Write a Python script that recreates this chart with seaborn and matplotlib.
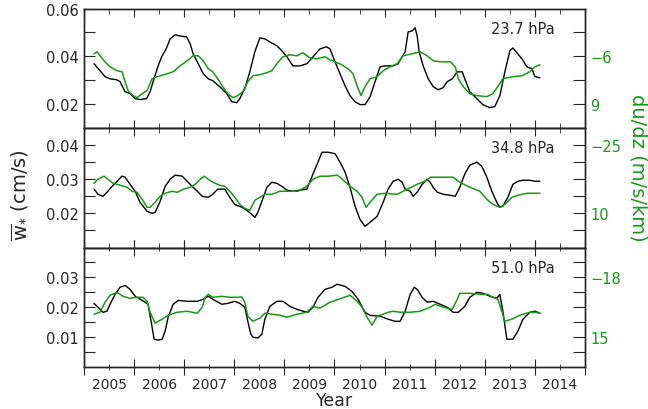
import numpy as np
import pandas as pd
import matplotlib
matplotlib.use("Agg")
import matplotlib.pyplot as plt
import seaborn as sns

# ---------------- 23.7 hPa ----------------
t_w_237 = [2005.20, 2005.32, 2005.42, 2005.52, 2005.65, 2005.72, 2005.82, 2005.92, 2006.02, 2006.12,
           2006.25, 2006.32, 2006.38, 2006.48, 2006.55, 2006.64, 2006.72, 2006.82, 2006.92, 2007.05,
           2007.12, 2007.18, 2007.28, 2007.38, 2007.48, 2007.57, 2007.71, 2007.85, 2007.95, 2008.05,
           2008.11, 2008.21, 2008.31, 2008.41, 2008.51, 2008.61, 2008.71, 2008.85, 2008.95, 2009.05,
           2009.17, 2009.31, 2009.45, 2009.57, 2009.71, 2009.84, 2009.91, 2010.01, 2010.11, 2010.21,
           2010.31, 2010.41, 2010.51, 2010.61, 2010.71, 2010.81, 2010.91, 2011.01, 2011.17, 2011.27,
           2011.35, 2011.41, 2011.47, 2011.55, 2011.61, 2011.65, 2011.69, 2011.77, 2011.87, 2011.97,
           2012.07, 2012.17, 2012.25, 2012.35, 2012.45, 2012.55, 2012.60, 2012.70, 2012.84, 2012.96,
           2013.10, 2013.20, 2013.30, 2013.40, 2013.50, 2013.56, 2013.66, 2013.74, 2013.84, 2013.94,
           2014.00, 2014.10]
w_237 = [0.0369, 0.0340, 0.0315, 0.0306, 0.0302, 0.0294, 0.0252, 0.0244, 0.0223, 0.0219,
         0.0223, 0.0252, 0.0294, 0.0360, 0.0398, 0.0431, 0.0473, 0.0490, 0.0485, 0.0481,
         0.0452, 0.0410, 0.0369, 0.0327, 0.0306, 0.0298, 0.0273, 0.0244, 0.0210, 0.0206,
         0.0223, 0.0265, 0.0335, 0.0419, 0.0477, 0.0473, 0.0460, 0.0444, 0.0423, 0.0398,
         0.0360, 0.0360, 0.0369, 0.0398, 0.0431, 0.0440, 0.0431, 0.0377, 0.0327, 0.0277,
         0.0235, 0.0210, 0.0198, 0.0198, 0.0231, 0.0294, 0.0356, 0.0360, 0.0360, 0.0369,
         0.0398, 0.0419, 0.0502, 0.0506, 0.0519, 0.0485, 0.0419, 0.0360, 0.0306, 0.0273,
         0.0260, 0.0269, 0.0294, 0.0306, 0.0335, 0.0335, 0.0306, 0.0252, 0.0223, 0.0198,
         0.0185, 0.0190, 0.0235, 0.0335, 0.0423, 0.0435, 0.0410, 0.0390, 0.0356, 0.0348,
         0.0315, 0.0310]
t_s_237 = [2005.20, 2005.26, 2005.32, 2005.42, 2005.52, 2005.66, 2005.76, 2005.82, 2005.88, 2005.98,
           2006.06, 2006.16, 2006.26, 2006.36, 2006.46, 2006.66, 2006.78, 2006.92, 2007.06, 2007.18,
           2007.28, 2007.38, 2007.48, 2007.57, 2007.67, 2007.77, 2007.87, 2007.97, 2008.07, 2008.17,
           2008.27, 2008.37, 2008.51, 2008.65, 2008.75, 2008.85, 2008.97, 2009.11, 2009.25, 2009.37,
           2009.51, 2009.65, 2009.81, 2009.91, 2010.05, 2010.11, 2010.27, 2010.37, 2010.45, 2010.53,
           2010.61, 2010.71, 2010.85, 2010.97, 2011.11, 2011.25, 2011.37, 2011.55, 2011.71, 2011.85,
           2011.97, 2012.11, 2012.31, 2012.41, 2012.47, 2012.57, 2012.70, 2012.84, 2013.04, 2013.16,
           2013.30, 2013.36, 2013.56, 2013.74, 2013.90, 2014.00, 2014.10]
s_237 = [-6.78, -7.41, -6.16, -4.28, -2.72, -1.47, -1.16, 1.97, 4.78, 6.34,
         6.97, 5.72, 4.78, 1.03, 0.41, -0.53, -1.16, -3.03, -4.60, -6.16,
         -6.16, -4.60, -2.10, -1.16, 1.03, 3.53, 5.72, 6.97, 6.34, 5.09,
         1.97, 0.09, -0.22, -0.85, -1.47, -3.66, -5.85, -6.47, -6.16, -7.10,
         -5.53, -5.22, -5.85, -4.91, -3.97, -3.66, -2.10, -0.53, 3.22, 6.34,
         3.53, 1.03, 0.41, -1.47, -2.72, -3.66, -6.16, -6.78, -7.41, -6.16,
         -4.60, -4.28, -4.28, -2.72, 1.03, 3.53, 5.72, 6.34, 6.66, 5.72,
         2.59, 1.03, 0.41, 0.09, -1.16, -2.72, -3.34]

# ---------------- 34.8 hPa ----------------
t_w_348 = [2005.20, 2005.28, 2005.38, 2005.46, 2005.56, 2005.66, 2005.76, 2005.82, 2005.92, 2006.02,
           2006.12, 2006.26, 2006.36, 2006.42, 2006.52, 2006.62, 2006.72, 2006.82, 2006.96, 2007.06,
           2007.16, 2007.26, 2007.36, 2007.48, 2007.57, 2007.67, 2007.81, 2007.91, 2008.01, 2008.15,
           2008.25, 2008.35, 2008.41, 2008.47, 2008.55, 2008.65, 2008.75, 2008.85, 2008.95, 2009.05,
           2009.17, 2009.31, 2009.45, 2009.51, 2009.57, 2009.67, 2009.75, 2009.87, 2010.01, 2010.11,
           2010.21, 2010.31, 2010.41, 2010.51, 2010.61, 2010.71, 2010.85, 2010.97, 2011.07, 2011.17,
           2011.27, 2011.35, 2011.41, 2011.51, 2011.57, 2011.65, 2011.75, 2011.85, 2011.91, 2011.97,
           2012.05, 2012.17, 2012.31, 2012.41, 2012.50, 2012.60, 2012.70, 2012.84, 2012.94, 2013.04,
           2013.14, 2013.24, 2013.30, 2013.36, 2013.46, 2013.56, 2013.66, 2013.76, 2013.90, 2014.00,
           2014.10]
w_348 = [0.0271, 0.0256, 0.0250, 0.0262, 0.0279, 0.0294, 0.0309, 0.0306, 0.0285, 0.0265,
         0.0232, 0.0206, 0.0200, 0.0203, 0.0235, 0.0279, 0.0300, 0.0312, 0.0309, 0.0294,
         0.0279, 0.0265, 0.0250, 0.0247, 0.0256, 0.0271, 0.0271, 0.0247, 0.0226, 0.0218,
         0.0209, 0.0197, 0.0188, 0.0203, 0.0235, 0.0276, 0.0291, 0.0288, 0.0279, 0.0268,
         0.0265, 0.0268, 0.0271, 0.0294, 0.0315, 0.0350, 0.0379, 0.0379, 0.0375, 0.0350,
         0.0321, 0.0276, 0.0221, 0.0182, 0.0162, 0.0174, 0.0191, 0.0232, 0.0271, 0.0294,
         0.0300, 0.0291, 0.0271, 0.0265, 0.0250, 0.0262, 0.0285, 0.0300, 0.0291, 0.0276,
         0.0262, 0.0256, 0.0253, 0.0250, 0.0276, 0.0315, 0.0341, 0.0350, 0.0338, 0.0306,
         0.0265, 0.0232, 0.0218, 0.0221, 0.0247, 0.0285, 0.0294, 0.0297, 0.0297, 0.0294,
         0.0294]
t_s_348 = [2005.20, 2005.28, 2005.40, 2005.48, 2005.58, 2005.72, 2005.86, 2005.96, 2006.06, 2006.16,
           2006.26, 2006.32, 2006.42, 2006.52, 2006.62, 2006.76, 2006.86, 2006.98, 2007.12, 2007.22,
           2007.32, 2007.40, 2007.48, 2007.57, 2007.71, 2007.81, 2007.91, 2008.01, 2008.11, 2008.21,
           2008.31, 2008.41, 2008.51, 2008.61, 2008.75, 2008.91, 2009.11, 2009.27, 2009.45, 2009.57,
           2009.71, 2009.87, 2010.05, 2010.11, 2010.31, 2010.45, 2010.55, 2010.63, 2010.71, 2010.85,
           2011.01, 2011.25, 2011.45, 2011.65, 2011.85, 2011.91, 2012.11, 2012.37, 2012.50, 2012.70,
           2012.90, 2013.04, 2013.16, 2013.30, 2013.40, 2013.54, 2013.66, 2013.84, 2014.10]
s_348 = [-5.45, -7.50, -9.05, -7.50, -5.45, -4.42, -3.39, -1.33, -0.81, 2.79,
         6.91, 6.91, 4.33, 1.25, -0.30, -1.33, -0.81, -2.36, -3.39, -4.93,
         -7.50, -9.05, -7.50, -5.96, -4.42, -3.90, -1.33, 1.76, 5.37, 7.43,
         8.46, 3.30, 1.76, 0.22, 0.22, -1.33, -1.33, -1.33, -3.90, -7.50,
         -9.05, -9.05, -9.56, -8.53, -3.90, -1.33, 1.76, 6.91, 4.33, 0.22,
         -0.30, 0.22, -2.36, -4.93, -6.99, -8.53, -8.53, -8.53, -5.96, -3.39,
         -1.33, 2.79, 5.37, 6.91, 5.37, 1.76, 0.73, -0.30, -0.30]

# ---------------- 51.0 hPa ----------------
t_w_510 = [2005.20, 2005.28, 2005.38, 2005.46, 2005.52, 2005.62, 2005.72, 2005.82, 2005.92, 2006.02,
           2006.12, 2006.22, 2006.28, 2006.36, 2006.40, 2006.48, 2006.56, 2006.62, 2006.68, 2006.78,
           2006.88, 2007.06, 2007.26, 2007.38, 2007.48, 2007.57, 2007.75, 2007.87, 2008.01, 2008.11,
           2008.21, 2008.27, 2008.33, 2008.37, 2008.47, 2008.55, 2008.61, 2008.71, 2008.85, 2008.97,
           2009.11, 2009.25, 2009.37, 2009.47, 2009.57, 2009.67, 2009.81, 2009.95, 2010.05, 2010.21,
           2010.35, 2010.47, 2010.61, 2010.71, 2010.91, 2011.07, 2011.21, 2011.31, 2011.41, 2011.51,
           2011.59, 2011.65, 2011.75, 2011.85, 2011.97, 2012.11, 2012.25, 2012.37, 2012.47, 2012.60,
           2012.70, 2012.84, 2012.96, 2013.10, 2013.24, 2013.30, 2013.36, 2013.44, 2013.56, 2013.66,
           2013.76, 2013.90, 2014.00, 2014.10]
w_510 = [0.0213, 0.0200, 0.0183, 0.0187, 0.0210, 0.0243, 0.0267, 0.0273, 0.0260, 0.0237,
         0.0227, 0.0217, 0.0210, 0.0133, 0.0093, 0.0090, 0.0093, 0.0120, 0.0167, 0.0210,
         0.0223, 0.0220, 0.0220, 0.0227, 0.0237, 0.0227, 0.0210, 0.0213, 0.0220, 0.0213,
         0.0200, 0.0153, 0.0110, 0.0100, 0.0097, 0.0110, 0.0160, 0.0203, 0.0220, 0.0220,
         0.0203, 0.0193, 0.0187, 0.0183, 0.0200, 0.0233, 0.0260, 0.0267, 0.0277, 0.0270,
         0.0253, 0.0227, 0.0183, 0.0173, 0.0170, 0.0160, 0.0153, 0.0153, 0.0187, 0.0243,
         0.0267, 0.0260, 0.0233, 0.0217, 0.0220, 0.0210, 0.0200, 0.0183, 0.0183, 0.0203,
         0.0233, 0.0250, 0.0247, 0.0237, 0.0230, 0.0243, 0.0187, 0.0093, 0.0093, 0.0120,
         0.0160, 0.0183, 0.0187, 0.0180]
t_s_510 = [2005.20, 2005.32, 2005.42, 2005.52, 2005.66, 2005.78, 2005.92, 2006.06, 2006.18, 2006.26,
           2006.32, 2006.42, 2006.56, 2006.68, 2006.86, 2007.06, 2007.26, 2007.36, 2007.42, 2007.48,
           2007.57, 2007.75, 2007.91, 2008.07, 2008.15, 2008.21, 2008.27, 2008.37, 2008.51, 2008.61,
           2008.75, 2008.91, 2009.05, 2009.25, 2009.45, 2009.57, 2009.71, 2009.87, 2009.91, 2010.11,
           2010.31, 2010.45, 2010.55, 2010.65, 2010.75, 2010.85, 2010.97, 2011.07, 2011.17, 2011.31,
           2011.51, 2011.71, 2011.91, 2012.01, 2012.17, 2012.35, 2012.45, 2012.50, 2012.70, 2012.90,
           2013.06, 2013.16, 2013.26, 2013.34, 2013.40, 2013.54, 2013.70, 2013.90, 2014.00, 2014.10]
s_510 = [2.35, 1.25, -4.25, -8.10, -9.75, -7.55, -6.45, -7.00, -7.00, -4.80,
         1.25, 7.30, 5.10, 2.90, 1.25, 0.70, 1.80, -1.50, -7.00, -8.65,
         -7.00, -7.55, -7.00, -7.00, -7.20, -4.25, 3.45, 6.20, 4.55, 1.80,
         2.35, 2.90, 4.00, 2.35, 1.25, -2.05, -0.95, -3.70, -4.25, -6.20,
         -8.10, -4.80, -1.50, 4.00, 8.40, 3.45, 2.35, 1.25, 0.70, 1.25,
         1.25, 0.70, -1.50, -3.15, -1.50, -0.40, -5.90, -9.20, -9.20, -8.65,
         -8.65, -7.00, -5.90, 0.70, 6.20, 5.10, 2.90, 1.25, 1.25, 1.80]

levels = ["23.7 hPa", "34.8 hPa", "51.0 hPa"]
years = list(range(2005, 2015))

# ---------------- styling ----------------
sns.set_style("ticks")
plt.rcParams["font.family"] = ["DejaVu Sans"]
plt.rcParams["axes.linewidth"] = 1.0
GREEN = "#169a16"

fig, axes = plt.subplots(3, 1, figsize=(6.48, 4.10), dpi=100)
fig.subplots_adjust(left=0.1296, right=0.9028, top=0.9768, bottom=0.1024, hspace=0)

panels = [
    dict(tw=t_w_237, w=w_237, ts=t_s_237, s=s_237,
         wlim=(0.01, 0.06), wticks=[0.02, 0.03, 0.04, 0.05, 0.06],
         wlab=["0.02", "", "0.04", "", "0.06"],
         slim=(16.5, -21.0), sticks=[-13.5, -6.0, 1.5, 9.0],
         slab=["", "\u22126", "", "9"]),
    dict(tw=t_w_348, w=w_348, ts=t_s_348, s=s_348,
         wlim=(0.01, 0.045), wticks=[0.015, 0.02, 0.025, 0.03, 0.035, 0.04],
         wlab=["", "0.02", "", "0.03", "", "0.04"],
         slim=(27.5, -33.75), sticks=[-25.0, -16.25, -7.5, 1.25, 10.0, 18.75],
         slab=["\u221225", "", "", "", "10", ""]),
    dict(tw=t_w_510, w=w_510, ts=t_s_510, s=s_510,
         wlim=(0.0, 0.04), wticks=[0.005, 0.01, 0.015, 0.02, 0.025, 0.03, 0.035],
         wlab=["", "0.01", "", "0.02", "", "0.03", ""],
         slim=(31.5, -34.5), sticks=[-26.25, -18.0, -9.75, -1.5, 6.75, 15.0, 23.25],
         slab=["", "\u221218", "", "", "", "15", ""]),
]

for i, (ax, p, lev) in enumerate(zip(axes, panels, levels)):
    dw = pd.DataFrame({"year": p["tw"], "w": p["w"]})
    ds = pd.DataFrame({"year": p["ts"], "s": p["s"]})

    sns.lineplot(data=dw, x="year", y="w", ax=ax, color="black", lw=1.0,
                 estimator=None, sort=False)
    ax.set_xlim(2005, 2015)
    ax.set_ylim(*p["wlim"])
    ax.set_yticks(p["wticks"])
    ax.set_yticklabels(p["wlab"], fontsize=10.5)
    ax.set_xlabel("")
    ax.set_ylabel("")

    ax.set_xticks(np.arange(2005, 2016))
    ax.set_xticks(np.arange(2005.5, 2015, 1.0), minor=True)
    ax.set_xticklabels([])
    if i == 2:
        ax.set_xticklabels([str(y) for y in years], minor=True, fontsize=10)
        ax.tick_params(axis="x", which="major", direction="inout", length=11,
                       top=True, bottom=True)
        ax.tick_params(axis="x", which="minor", direction="inout", length=5,
                       top=True, bottom=True, pad=5)
    else:
        ax.set_xticklabels([], minor=True)
        ax.tick_params(axis="x", which="major", direction="in", length=6,
                       top=True, bottom=True)
        ax.tick_params(axis="x", which="minor", direction="in", length=3.5,
                       top=True, bottom=True)
    ax.tick_params(axis="y", which="major", direction="in", length=8,
                   left=True, right=False, pad=4)

    ax.text(0.94, 0.835, lev, transform=ax.transAxes, ha="right", va="center",
            fontsize=10.5)

    ax2 = ax.twinx()
    sns.lineplot(data=ds, x="year", y="s", ax=ax2, color=GREEN, lw=1.1,
                 estimator=None, sort=False)
    ax2.set_ylim(*p["slim"])
    ax2.set_yticks(p["sticks"])
    ax2.set_yticklabels(p["slab"], fontsize=10.5, color=GREEN)
    ax2.set_ylabel("")
    ax2.tick_params(axis="y", which="major", direction="in", length=9,
                    right=True, left=False, pad=4)
    for sp in ax2.spines.values():
        sp.set_linewidth(1.0)

fig.text(0.517, 0.022, "Year", ha="center", va="center", fontsize=12.5)
fig.text(0.032, 0.524, r"$\overline{\mathrm{w}}_{*}$ (cm/s)", rotation=90,
         ha="center", va="center", fontsize=14)
fig.text(0.985, 0.59, "du/dz (m/s/km)", rotation=-90, ha="center", va="center",
         fontsize=14, color=GREEN)

fig.savefig("out.png", dpi=100)
